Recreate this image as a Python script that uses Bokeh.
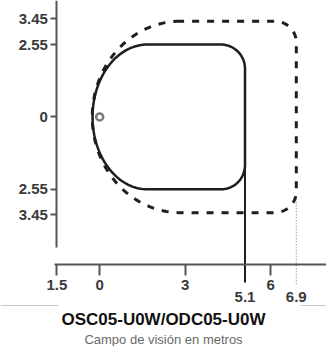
import numpy as np
from bokeh.plotting import figure
from bokeh.models import LinearAxis, FixedTicker, CustomJSTickFormatter, Title, Range1d
from bokeh.embed import file_html
from bokeh.resources import INLINE

# ---- data (metres) ----
x_ticks = [-1.5, 0, 3, 6]          # shown without sign
x_ticks_low = [5.1, 6.9]           # staggered labels
y_ticks = [-3.45, -2.55, 0, 2.55, 3.45]

# solid zone
solid_left = -0.25
solid_arc_center = 1.68
solid_right = 5.1
solid_half = 2.55

# dashed zone
dashed_left = -0.26
dashed_arc_center = 2.83
dashed_right = 6.9
dashed_half = 3.37

# reference lines going down through the x axis
solid_ref_x = 5.1
dotted_ref_x = 6.9

# ---- layout helpers ----
axis_x_at = -1.5      # where the vertical axis stands
axis_y_at = -5.2      # where the horizontal axis lies
FONT = "Liberation Sans"


def zone(left, cx, right, half, r):
    rx = cx - left
    t = np.linspace(np.pi / 2, 3 * np.pi / 2, 80)
    xs = list(cx + rx * np.cos(t))
    ys = list(half * np.sin(t))
    a = np.linspace(-np.pi / 2, 0, 24)
    xs += list(right - r + r * np.cos(a))
    ys += list(-half + r + r * np.sin(a))
    a = np.linspace(0, np.pi / 2, 24)
    xs += list(right - r + r * np.cos(a))
    ys += list(half - r + r * np.sin(a))
    xs.append(cx)
    ys.append(half)
    return xs, ys


p = figure(frame_width=326, frame_height=307,
           x_range=Range1d(-3.48, 7.96), y_range=Range1d(-6.71, 4.10),
           output_backend="svg", toolbar_location=None,
           min_border=0, outline_line_color=None,
           background_fill_color="white", border_fill_color="white")
p.grid.visible = False

fmt = CustomJSTickFormatter(code="return String(Math.abs(tick));")

# vertical axis
ya = LinearAxis(ticker=FixedTicker(ticks=y_ticks), formatter=fmt,
                fixed_location=axis_x_at, bounds=(-4.6, 4.1))
p.yaxis.visible = False
p.add_layout(ya, "left")

# horizontal axis
xa = p.xaxis[0]
xa.fixed_location = axis_y_at
xa.bounds = (-1.6, 8.3)
xa.ticker = FixedTicker(ticks=x_ticks)
xa.formatter = fmt

for ax in (ya, xa):
    ax.axis_line_color = "#555555"
    ax.axis_line_width = 2
    ax.major_tick_line_color = "#555555"
    ax.major_tick_line_width = 2
    ax.major_tick_in = 0
    ax.minor_tick_line_color = None
    ax.major_label_text_font = FONT
    ax.major_label_text_font_style = "bold"
    ax.major_label_text_font_size = "15px"
    ax.major_label_text_color = "#3a3a3a"
ya.major_tick_out = 6
ya.major_label_standoff = 3
xa.major_tick_out = 11
xa.major_label_standoff = 4

xa2 = LinearAxis(ticker=FixedTicker(ticks=x_ticks_low), formatter=fmt,
                 fixed_location=axis_y_at,
                 axis_line_color=None, major_tick_line_color=None,
                 minor_tick_line_color=None, major_tick_out=0, major_tick_in=0,
                 major_label_standoff=27,
                 major_label_text_font=FONT, major_label_text_font_style="bold",
                 major_label_text_font_size="15px", major_label_text_color="#3a3a3a")
p.add_layout(xa2, "below")

# zones
dx, dy = zone(dashed_left, dashed_arc_center, dashed_right, dashed_half, 0.75)
p.line(dx, dy, line_color="#1e1e1e", line_width=3, line_dash="7 8")
sx, sy = zone(solid_left, solid_arc_center, solid_right, solid_half, 0.85)
p.line(sx, sy, line_color="#1e1e1e", line_width=2.5)

# reference lines
p.segment(x0=[solid_ref_x], y0=[-1.6], x1=[solid_ref_x], y1=[-5.83],
          line_color="#1e1e1e", line_width=2)
p.segment(x0=[dotted_ref_x], y0=[-2.9], x1=[dotted_ref_x], y1=[-5.93],
          line_color="#777777", line_width=1, line_dash="1 2")

# sensor position
p.scatter([0], [0], marker="circle", size=7, fill_color="white",
          line_color="#7a7a7a", line_width=2.5)

# separator
p.segment(x0=[-3.48, 7.05], y0=[-6.64, -6.64], x1=[-1.45, 7.96], y1=[-6.64, -6.64],
          line_color="#c8c8c8", line_width=1)

t1 = Title(text="OSC05-U0W/ODC05-U0W", align="center", offset=-8, standoff=1,
           text_font=FONT, text_font_style="bold", text_font_size="17px",
           text_color="#111111")
t2 = Title(text="Campo de visión en metros", align="center", offset=-8, standoff=0,
           text_font=FONT, text_font_style="normal", text_font_size="13px",
           text_color="#6a6a6a")
p.add_layout(t1, "below")
p.add_layout(t2, "below")

open("out.html", "w").write(file_html(p, INLINE))
